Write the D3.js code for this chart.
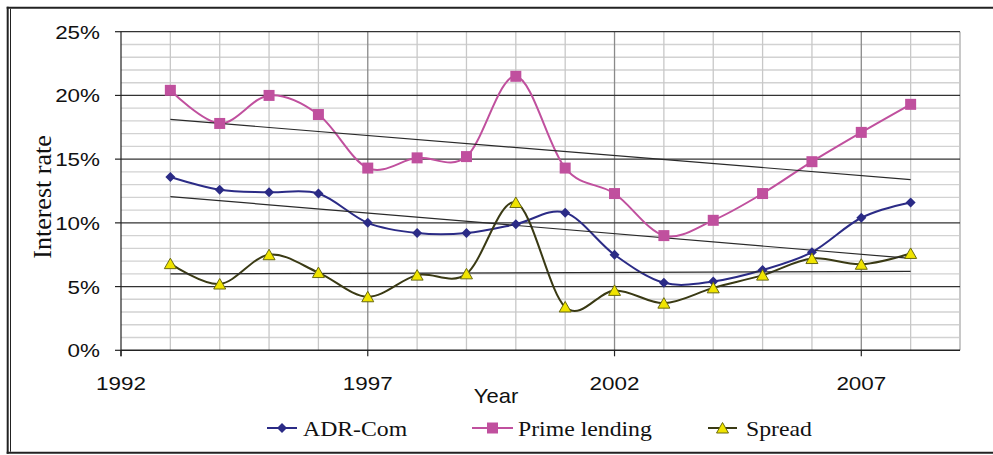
<!DOCTYPE html>
<html>
<head>
<meta charset="utf-8">
<script src="https://cdn.jsdelivr.net/npm/d3@7/dist/d3.min.js"></script>
<style>
  body { margin: 0; background: #fff; }
  svg { display: block; }
</style>
</head>
<body>
<svg id="chart" width="993" height="455"></svg>
<script>
// datos
const years = [1993, 1994, 1995, 1996, 1997, 1998, 1999, 2000, 2001, 2002, 2003, 2004, 2005, 2006, 2007, 2008];
const adrCom = [13.6, 12.6, 12.4, 12.3, 10.0, 9.2, 9.2, 9.9, 10.8, 7.5, 5.3, 5.4, 6.3, 7.7, 10.4, 11.6];
const primeLending = [20.4, 17.8, 20.0, 18.5, 14.3, 15.1, 15.2, 21.5, 14.3, 12.3, 9.0, 10.2, 12.3, 14.8, 17.1, 19.3];
const spread = [6.8, 5.2, 7.5, 6.1, 4.2, 5.9, 6.0, 11.6, 3.4, 4.7, 3.7, 4.9, 5.9, 7.2, 6.75, 7.6];
const yTicks = [0, 5, 10, 15, 20, 25];
const xTicks = [1992, 1997, 2002, 2007];
const seriesNames = ["ADR-Com", "Prime lending", "Spread"];

const svg = d3.select("#chart");
const plotLeft = 121, plotRight = 960, plotTop = 31.7, plotBottom = 350.3;

const x = d3.scaleLinear().domain([1992, 2009]).range([plotLeft, plotRight]);
const y = d3.scaleLinear().domain([0, 25]).range([plotBottom, plotTop]);

const NAVY = "#2b2b86", PINK = "#c0509e", OLIVE = "#3a3a14", YELLOW = "#f0e400";
const SANS = "'Liberation Sans', Arial, sans-serif";
const SERIF = "'Liberation Serif', 'Times New Roman', serif";

// marco
svg.append("line").attr("x1", 6.7).attr("x2", 993).attr("y1", 7.7).attr("y2", 7.7)
  .attr("stroke", "#222").attr("stroke-width", 2);
svg.append("line").attr("x1", 6.7).attr("x2", 993).attr("y1", 452.7).attr("y2", 452.7)
  .attr("stroke", "#222").attr("stroke-width", 2);
svg.append("line").attr("x1", 7.7).attr("x2", 7.7).attr("y1", 6.7).attr("y2", 453.7)
  .attr("stroke", "#222").attr("stroke-width", 2);
svg.append("line").attr("x1", 10.5).attr("x2", 10.5).attr("y1", 8.7).attr("y2", 451.7)
  .attr("stroke", "#222").attr("stroke-width", 1);

const grid = svg.append("g");

// lineas menores horizontales (cada 1%)
grid.selectAll("line.hminor")
  .data(d3.range(1, 25).filter(v => v % 5 !== 0))
  .join("line")
  .attr("x1", plotLeft).attr("x2", plotRight)
  .attr("y1", d => y(d)).attr("y2", d => y(d))
  .attr("stroke", "#d2d2d2").attr("stroke-width", 1.4);

// lineas verticales por anio
grid.selectAll("line.v")
  .data(d3.range(1993, 2010))
  .join("line")
  .attr("x1", d => x(d)).attr("x2", d => x(d))
  .attr("y1", plotTop).attr("y2", plotBottom)
  .attr("stroke", d => (d - 1992) % 5 === 0 ? "#8a8a8a" : "#c8c8c8")
  .attr("stroke-width", d => d === 2009 ? 2 : 1.3);

// lineas mayores horizontales
grid.selectAll("line.hmajor")
  .data(yTicks.filter(v => v > 0))
  .join("line")
  .attr("x1", plotLeft).attr("x2", plotRight)
  .attr("y1", d => y(d)).attr("y2", d => y(d))
  .attr("stroke", "#333").attr("stroke-width", 1.2);

// ejes
svg.append("line").attr("x1", plotLeft).attr("x2", plotLeft).attr("y1", plotTop).attr("y2", plotBottom + 6)
  .attr("stroke", "#222").attr("stroke-width", 1.2);
svg.append("line").attr("x1", plotLeft).attr("x2", plotRight).attr("y1", plotBottom).attr("y2", plotBottom)
  .attr("stroke", "#222").attr("stroke-width", 1.4);

svg.selectAll("line.ytick").data(yTicks).join("line")
  .attr("x1", plotLeft - 6).attr("x2", plotLeft)
  .attr("y1", d => y(d)).attr("y2", d => y(d))
  .attr("stroke", "#222").attr("stroke-width", 1.2);
svg.selectAll("line.xtick").data(xTicks).join("line")
  .attr("x1", d => x(d)).attr("x2", d => x(d))
  .attr("y1", plotBottom).attr("y2", plotBottom + 6)
  .attr("stroke", "#222").attr("stroke-width", 1.2);

// etiquetas de ejes (texto algo estirado en horizontal como el original)
const sx = 1.18;
svg.selectAll("text.ylab").data(yTicks).join("text")
  .attr("transform", d => `translate(100,${y(d) + 7}) scale(${sx},1)`)
  .attr("text-anchor", "end")
  .style("font-family", SANS).style("font-size", "19px").style("fill", "#111")
  .text(d => d + "%");

svg.selectAll("text.xlab").data(xTicks).join("text")
  .attr("transform", d => `translate(${x(d)},390) scale(${sx},1)`)
  .attr("text-anchor", "middle")
  .style("font-family", SANS).style("font-size", "19px").style("fill", "#111")
  .text(d => d);

svg.append("text")
  .attr("transform", "translate(496,403) scale(1.1,1)")
  .attr("text-anchor", "middle")
  .style("font-family", SANS).style("font-size", "20px").style("fill", "#111")
  .text("Year");

svg.append("text")
  .attr("transform", "translate(51,197) rotate(-90)")
  .attr("text-anchor", "middle")
  .style("font-family", SERIF).style("font-size", "26px").style("fill", "#111")
  .text("Interest rate");

// lineas de tendencia (regresion lineal)
function trend(vals) {
  const mx = d3.mean(years), my = d3.mean(vals);
  const num = d3.sum(years, (yr, i) => (yr - mx) * (vals[i] - my));
  const den = d3.sum(years, yr => (yr - mx) * (yr - mx));
  const b = num / den, a = my - b * mx;
  return [years[0], years[years.length - 1]].map(yr => [yr, a + b * yr]);
}

const series = [
  { name: seriesNames[0], vals: adrCom, color: NAVY, marker: "diamond" },
  { name: seriesNames[1], vals: primeLending, color: PINK, marker: "square" },
  { name: seriesNames[2], vals: spread, color: OLIVE, marker: "triangle" }
];

const markerPath = {
  diamond: "M0,-5L5,0L0,5L-5,0Z",
  square: "M-5.5,-5.5H5.5V5.5H-5.5Z",
  triangle: "M0,-5.5L6,5L-6,5Z"
};
function markerStyle(sel, s) {
  if (s.marker === "triangle") {
    sel.attr("fill", YELLOW).attr("stroke", "#6a6a10").attr("stroke-width", 1);
  } else {
    sel.attr("fill", s.color).attr("stroke", "none");
  }
}

const line = d3.line()
  .x(d => x(d[0])).y(d => y(d[1]))
  .curve(d3.curveCatmullRom.alpha(0));

const linesG = svg.append("g");
series.forEach(s => {
  linesG.append("path")
    .datum(years.map((yr, i) => [yr, s.vals[i]]))
    .attr("d", line)
    .attr("fill", "none")
    .attr("stroke", s.color)
    .attr("stroke-width", 2);
});

const trendG = svg.append("g");
[primeLending, adrCom, spread].forEach(vals => {
  const t = trend(vals);
  trendG.append("line")
    .attr("x1", x(t[0][0])).attr("y1", y(t[0][1]))
    .attr("x2", x(t[1][0])).attr("y2", y(t[1][1]))
    .attr("stroke", "#2a2a2a").attr("stroke-width", 1.2);
});

series.forEach(s => {
  svg.append("g").selectAll("path")
    .data(years.map((yr, i) => [yr, s.vals[i]]))
    .join("path")
    .attr("d", markerPath[s.marker])
    .attr("transform", d => `translate(${x(d[0])},${y(d[1])})`)
    .call(markerStyle, s);
});

// leyenda (fondo blanco que recorta "Year" como en el original)
svg.append("rect").attr("x", 240).attr("y", 403).attr("width", 600).attr("height", 45).attr("fill", "#fff");

const legendX = [
  { x1: 267, x2: 297, tx: 303 },
  { x1: 472, x2: 513, tx: 518 },
  { x1: 708, x2: 737, tx: 746 }
];
const legendY = 428;
const legend = svg.append("g");
series.forEach((s, i) => {
  const p = legendX[i];
  legend.append("line")
    .attr("x1", p.x1).attr("x2", p.x2)
    .attr("y1", legendY).attr("y2", legendY)
    .attr("stroke", s.color).attr("stroke-width", 2);
  legend.append("path")
    .attr("d", markerPath[s.marker])
    .attr("transform", `translate(${(p.x1 + p.x2) / 2},${legendY})`)
    .call(markerStyle, s);
  legend.append("text")
    .attr("transform", `translate(${p.tx},${legendY + 8}) scale(1.08,1)`)
    .style("font-family", SERIF).style("font-size", "22px").style("fill", "#111")
    .text(s.name);
});
</script>
</body>
</html>
